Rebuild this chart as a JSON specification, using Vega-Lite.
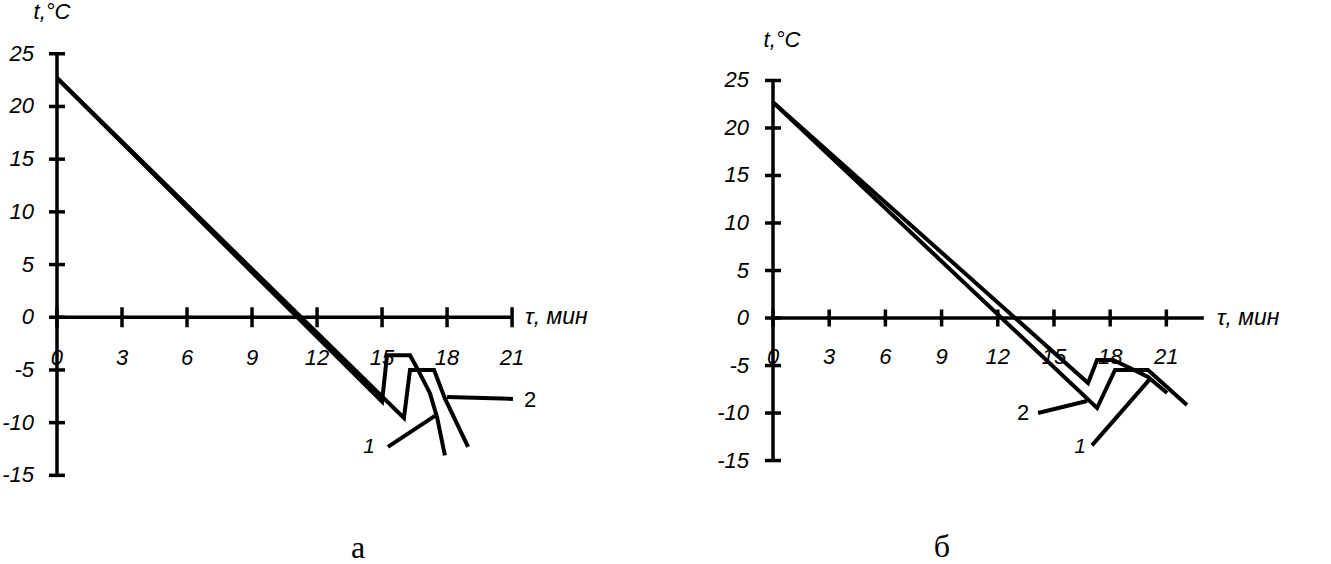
{
  "$schema": "https://vega.github.io/schema/vega-lite/v6.json",
  "width": 1331,
  "height": 564,
  "autosize": {"type": "fit", "contains": "padding"},
  "padding": 0,
  "background": "white",
  "config": {
    "view": {"stroke": null},
    "text": {"font": "Liberation Sans", "fontStyle": "italic", "fontSize": 22, "fill": "black"}
  },
  "datasets": {
    "curvesA": [
      {"s": "1", "tau": 0, "temp": 22.7},
      {"s": "1", "tau": 15.0, "temp": -8.0},
      {"s": "1", "tau": 15.23, "temp": -3.6},
      {"s": "1", "tau": 16.29, "temp": -3.6},
      {"s": "1", "tau": 16.66, "temp": -5.0},
      {"s": "1", "tau": 17.21, "temp": -7.2},
      {"s": "1", "tau": 17.54, "temp": -9.5},
      {"s": "1", "tau": 17.9, "temp": -13.1},
      {"s": "2", "tau": 0, "temp": 22.7},
      {"s": "2", "tau": 16.01, "temp": -9.55},
      {"s": "2", "tau": 16.29, "temp": -5.0},
      {"s": "2", "tau": 17.4, "temp": -5.0},
      {"s": "2", "tau": 17.9, "temp": -7.7},
      {"s": "2", "tau": 18.97, "temp": -12.3}
    ],
    "curvesB": [
      {"s": "1", "tau": 0, "temp": 22.7},
      {"s": "1", "tau": 16.82, "temp": -6.84},
      {"s": "1", "tau": 17.3, "temp": -4.42},
      {"s": "1", "tau": 18.15, "temp": -4.42},
      {"s": "1", "tau": 19.06, "temp": -5.26},
      {"s": "1", "tau": 20.02, "temp": -6.2},
      {"s": "1", "tau": 21.04, "temp": -7.9},
      {"s": "2", "tau": 0, "temp": 22.7},
      {"s": "2", "tau": 17.3, "temp": -9.47},
      {"s": "2", "tau": 18.26, "temp": -5.47},
      {"s": "2", "tau": 20.02, "temp": -5.47},
      {"s": "2", "tau": 22.1, "temp": -9.16}
    ],
    "leadersA": [
      {"s": "1", "tau": 15.27, "temp": -12.3},
      {"s": "1", "tau": 17.44, "temp": -9.36},
      {"s": "2", "tau": 18.0, "temp": -7.56},
      {"s": "2", "tau": 21.04, "temp": -7.75}
    ],
    "leadersB": [
      {"s": "1", "tau": 17.03, "temp": -13.4},
      {"s": "1", "tau": 20.13, "temp": -6.4},
      {"s": "2", "tau": 14.15, "temp": -10.0},
      {"s": "2", "tau": 16.76, "temp": -8.74}
    ],
    "labelsA": [
      {"lab": "1", "tau": 14.4, "temp": -12.3},
      {"lab": "2", "tau": 21.83, "temp": -7.85}
    ],
    "labelsB": [
      {"lab": "2", "tau": 13.35, "temp": -10.0},
      {"lab": "1", "tau": 16.4, "temp": -13.6}
    ],
    "xticksA": [
      {"v": 0, "lab": "0"}, {"v": 3, "lab": "3"}, {"v": 6, "lab": "6"}, {"v": 9, "lab": "9"},
      {"v": 12, "lab": "12"}, {"v": 15, "lab": "15"}, {"v": 18, "lab": "18"}, {"v": 21, "lab": "21"}
    ],
    "yticks": [
      {"v": -15, "lab": "-15"}, {"v": -10, "lab": "-10"}, {"v": -5, "lab": "-5"}, {"v": 0, "lab": "0"},
      {"v": 5, "lab": "5"}, {"v": 10, "lab": "10"}, {"v": 15, "lab": "15"}, {"v": 20, "lab": "20"}, {"v": 25, "lab": "25"}
    ]
  },
  "layer": [
    {
      "data": {"values": [{}]},
      "mark": {"type": "rule", "color": "black", "strokeWidth": 3.5},
      "encoding": {
        "x": {"datum": 0, "type": "quantitative", "axis": null, "scale": {"domain": [-2.63, 58.79], "nice": false, "zero": false}},
        "x2": {"datum": 21},
        "y": {"datum": 0, "type": "quantitative", "axis": null, "scale": {"domain": [-23.41, 30.1], "nice": false, "zero": false}}
      }
    },
    {
      "data": {"values": [{}]},
      "mark": {"type": "rule", "color": "black", "strokeWidth": 3.5},
      "encoding": {
        "x": {"datum": 0, "type": "quantitative", "axis": null, "scale": {"domain": [-2.63, 58.79], "nice": false, "zero": false}},
        "y": {"datum": -15, "type": "quantitative", "axis": null, "scale": {"domain": [-23.41, 30.1], "nice": false, "zero": false}},
        "y2": {"datum": 25}
      }
    },
    {
      "data": {"name": "xticksA"},
      "mark": {"type": "tick", "orient": "vertical", "size": 20, "thickness": 3.5, "color": "black", "opacity": 1},
      "encoding": {
        "x": {"field": "v", "type": "quantitative", "axis": null, "scale": {"domain": [-2.63, 58.79], "nice": false, "zero": false}},
        "y": {"datum": 0, "type": "quantitative", "axis": null, "scale": {"domain": [-23.41, 30.1], "nice": false, "zero": false}}
      }
    },
    {
      "data": {"name": "yticks"},
      "mark": {"type": "tick", "orient": "horizontal", "size": 16, "thickness": 3.5, "color": "black", "opacity": 1},
      "encoding": {
        "x": {"datum": 0, "type": "quantitative", "axis": null, "scale": {"domain": [-2.63, 58.79], "nice": false, "zero": false}},
        "y": {"field": "v", "type": "quantitative", "axis": null, "scale": {"domain": [-23.41, 30.1], "nice": false, "zero": false}}
      }
    },
    {
      "data": {"name": "xticksA"},
      "mark": {"type": "text", "dy": 41, "align": "center", "baseline": "middle"},
      "encoding": {
        "x": {"field": "v", "type": "quantitative", "axis": null, "scale": {"domain": [-2.63, 58.79], "nice": false, "zero": false}},
        "y": {"datum": 0, "type": "quantitative", "axis": null, "scale": {"domain": [-23.41, 30.1], "nice": false, "zero": false}},
        "text": {"field": "lab"}
      }
    },
    {
      "data": {"name": "yticks"},
      "mark": {"type": "text", "dx": -23, "align": "right", "baseline": "middle"},
      "encoding": {
        "x": {"datum": 0, "type": "quantitative", "axis": null, "scale": {"domain": [-2.63, 58.79], "nice": false, "zero": false}},
        "y": {"field": "v", "type": "quantitative", "axis": null, "scale": {"domain": [-23.41, 30.1], "nice": false, "zero": false}},
        "text": {"field": "lab"}
      }
    },
    {
      "data": {"name": "curvesA"},
      "mark": {"type": "line", "color": "black", "strokeWidth": 4, "strokeJoin": "miter"},
      "encoding": {
        "x": {"field": "tau", "type": "quantitative", "axis": null, "scale": {"domain": [-2.63, 58.79], "nice": false, "zero": false}},
        "y": {"field": "temp", "type": "quantitative", "axis": null, "scale": {"domain": [-23.41, 30.1], "nice": false, "zero": false}},
        "detail": {"field": "s"}
      }
    },
    {
      "data": {"name": "leadersA"},
      "mark": {"type": "line", "color": "black", "strokeWidth": 4},
      "encoding": {
        "x": {"field": "tau", "type": "quantitative", "axis": null, "scale": {"domain": [-2.63, 58.79], "nice": false, "zero": false}},
        "y": {"field": "temp", "type": "quantitative", "axis": null, "scale": {"domain": [-23.41, 30.1], "nice": false, "zero": false}},
        "detail": {"field": "s"}
      }
    },
    {
      "data": {"name": "labelsA"},
      "transform": [{"filter": "datum.lab == '1'"}],
      "mark": {"type": "text", "align": "center", "baseline": "middle", "fontSize": 21},
      "encoding": {
        "x": {"field": "tau", "type": "quantitative", "axis": null, "scale": {"domain": [-2.63, 58.79], "nice": false, "zero": false}},
        "y": {"field": "temp", "type": "quantitative", "axis": null, "scale": {"domain": [-23.41, 30.1], "nice": false, "zero": false}},
        "text": {"field": "lab"}
      }
    },
    {
      "data": {"name": "labelsA"},
      "transform": [{"filter": "datum.lab == '2'"}],
      "mark": {"type": "text", "align": "center", "baseline": "middle", "fontSize": 22, "fontStyle": "normal"},
      "encoding": {
        "x": {"field": "tau", "type": "quantitative", "axis": null, "scale": {"domain": [-2.63, 58.79], "nice": false, "zero": false}},
        "y": {"field": "temp", "type": "quantitative", "axis": null, "scale": {"domain": [-23.41, 30.1], "nice": false, "zero": false}},
        "text": {"field": "lab"}
      }
    },
    {
      "data": {"values": [{}]},
      "mark": {"type": "text", "text": "t,°C", "align": "center", "baseline": "middle"},
      "encoding": {
        "x": {"datum": -0.23, "type": "quantitative", "axis": null, "scale": {"domain": [-2.63, 58.79], "nice": false, "zero": false}},
        "y": {"datum": 29.0, "type": "quantitative", "axis": null, "scale": {"domain": [-23.41, 30.1], "nice": false, "zero": false}}
      }
    },
    {
      "data": {"values": [{}]},
      "mark": {"type": "text", "text": "τ, мин", "align": "left", "baseline": "middle", "fontSize": 23},
      "encoding": {
        "x": {"datum": 21.6, "type": "quantitative", "axis": null, "scale": {"domain": [-2.63, 58.79], "nice": false, "zero": false}},
        "y": {"datum": 0, "type": "quantitative", "axis": null, "scale": {"domain": [-23.41, 30.1], "nice": false, "zero": false}}
      }
    },
    {
      "data": {"values": [{}]},
      "mark": {"type": "text", "text": "а", "align": "center", "baseline": "middle", "font": "Liberation Serif", "fontStyle": "normal", "fontSize": 32},
      "encoding": {
        "x": {"datum": 13.89, "type": "quantitative", "axis": null, "scale": {"domain": [-2.63, 58.79], "nice": false, "zero": false}},
        "y": {"datum": -21.89, "type": "quantitative", "axis": null, "scale": {"domain": [-23.41, 30.1], "nice": false, "zero": false}}
      }
    },

    {
      "data": {"values": [{}]},
      "mark": {"type": "rule", "color": "black", "strokeWidth": 3.5},
      "encoding": {
        "x": {"datum": 0, "type": "quantitative", "axis": null, "scale": {"domain": [-41.27, 29.79], "nice": false, "zero": false}},
        "x2": {"datum": 23},
        "y": {"datum": 0, "type": "quantitative", "axis": null, "scale": {"domain": [-25.89, 33.47], "nice": false, "zero": false}}
      }
    },
    {
      "data": {"values": [{}]},
      "mark": {"type": "rule", "color": "black", "strokeWidth": 3.5},
      "encoding": {
        "x": {"datum": 0, "type": "quantitative", "axis": null, "scale": {"domain": [-41.27, 29.79], "nice": false, "zero": false}},
        "y": {"datum": -15, "type": "quantitative", "axis": null, "scale": {"domain": [-25.89, 33.47], "nice": false, "zero": false}},
        "y2": {"datum": 25}
      }
    },
    {
      "data": {"name": "xticksA"},
      "mark": {"type": "tick", "orient": "vertical", "size": 17, "thickness": 3.5, "color": "black", "opacity": 1},
      "encoding": {
        "x": {"field": "v", "type": "quantitative", "axis": null, "scale": {"domain": [-41.27, 29.79], "nice": false, "zero": false}},
        "y": {"datum": 0, "type": "quantitative", "axis": null, "scale": {"domain": [-25.89, 33.47], "nice": false, "zero": false}}
      }
    },
    {
      "data": {"name": "yticks"},
      "mark": {"type": "tick", "orient": "horizontal", "size": 16, "thickness": 3.5, "color": "black", "opacity": 1},
      "encoding": {
        "x": {"datum": 0, "type": "quantitative", "axis": null, "scale": {"domain": [-41.27, 29.79], "nice": false, "zero": false}},
        "y": {"field": "v", "type": "quantitative", "axis": null, "scale": {"domain": [-25.89, 33.47], "nice": false, "zero": false}}
      }
    },
    {
      "data": {"name": "xticksA"},
      "mark": {"type": "text", "dy": 39, "align": "center", "baseline": "middle"},
      "encoding": {
        "x": {"field": "v", "type": "quantitative", "axis": null, "scale": {"domain": [-41.27, 29.79], "nice": false, "zero": false}},
        "y": {"datum": 0, "type": "quantitative", "axis": null, "scale": {"domain": [-25.89, 33.47], "nice": false, "zero": false}},
        "text": {"field": "lab"}
      }
    },
    {
      "data": {"name": "yticks"},
      "mark": {"type": "text", "dx": -24, "align": "right", "baseline": "middle"},
      "encoding": {
        "x": {"datum": 0, "type": "quantitative", "axis": null, "scale": {"domain": [-41.27, 29.79], "nice": false, "zero": false}},
        "y": {"field": "v", "type": "quantitative", "axis": null, "scale": {"domain": [-25.89, 33.47], "nice": false, "zero": false}},
        "text": {"field": "lab"}
      }
    },
    {
      "data": {"name": "curvesB"},
      "mark": {"type": "line", "color": "black", "strokeWidth": 4, "strokeJoin": "miter"},
      "encoding": {
        "x": {"field": "tau", "type": "quantitative", "axis": null, "scale": {"domain": [-41.27, 29.79], "nice": false, "zero": false}},
        "y": {"field": "temp", "type": "quantitative", "axis": null, "scale": {"domain": [-25.89, 33.47], "nice": false, "zero": false}},
        "detail": {"field": "s"}
      }
    },
    {
      "data": {"name": "leadersB"},
      "mark": {"type": "line", "color": "black", "strokeWidth": 4},
      "encoding": {
        "x": {"field": "tau", "type": "quantitative", "axis": null, "scale": {"domain": [-41.27, 29.79], "nice": false, "zero": false}},
        "y": {"field": "temp", "type": "quantitative", "axis": null, "scale": {"domain": [-25.89, 33.47], "nice": false, "zero": false}},
        "detail": {"field": "s"}
      }
    },
    {
      "data": {"name": "labelsB"},
      "transform": [{"filter": "datum.lab == '1'"}],
      "mark": {"type": "text", "align": "center", "baseline": "middle", "fontSize": 21},
      "encoding": {
        "x": {"field": "tau", "type": "quantitative", "axis": null, "scale": {"domain": [-41.27, 29.79], "nice": false, "zero": false}},
        "y": {"field": "temp", "type": "quantitative", "axis": null, "scale": {"domain": [-25.89, 33.47], "nice": false, "zero": false}},
        "text": {"field": "lab"}
      }
    },
    {
      "data": {"name": "labelsB"},
      "transform": [{"filter": "datum.lab == '2'"}],
      "mark": {"type": "text", "align": "center", "baseline": "middle", "fontSize": 22, "fontStyle": "normal"},
      "encoding": {
        "x": {"field": "tau", "type": "quantitative", "axis": null, "scale": {"domain": [-41.27, 29.79], "nice": false, "zero": false}},
        "y": {"field": "temp", "type": "quantitative", "axis": null, "scale": {"domain": [-25.89, 33.47], "nice": false, "zero": false}},
        "text": {"field": "lab"}
      }
    },
    {
      "data": {"values": [{}]},
      "mark": {"type": "text", "text": "t,°C", "align": "center", "baseline": "middle"},
      "encoding": {
        "x": {"datum": 0.48, "type": "quantitative", "axis": null, "scale": {"domain": [-41.27, 29.79], "nice": false, "zero": false}},
        "y": {"datum": 29.3, "type": "quantitative", "axis": null, "scale": {"domain": [-25.89, 33.47], "nice": false, "zero": false}}
      }
    },
    {
      "data": {"values": [{}]},
      "mark": {"type": "text", "text": "τ, мин", "align": "left", "baseline": "middle", "fontSize": 23},
      "encoding": {
        "x": {"datum": 23.7, "type": "quantitative", "axis": null, "scale": {"domain": [-41.27, 29.79], "nice": false, "zero": false}},
        "y": {"datum": 0, "type": "quantitative", "axis": null, "scale": {"domain": [-25.89, 33.47], "nice": false, "zero": false}}
      }
    },
    {
      "data": {"values": [{}]},
      "mark": {"type": "text", "text": "б", "align": "center", "baseline": "middle", "font": "Liberation Serif", "fontStyle": "normal", "fontSize": 32},
      "encoding": {
        "x": {"datum": 9.02, "type": "quantitative", "axis": null, "scale": {"domain": [-41.27, 29.79], "nice": false, "zero": false}},
        "y": {"datum": -24.1, "type": "quantitative", "axis": null, "scale": {"domain": [-25.89, 33.47], "nice": false, "zero": false}}
      }
    }
  ],
  "resolve": {"scale": {"x": "independent", "y": "independent"}}
}
